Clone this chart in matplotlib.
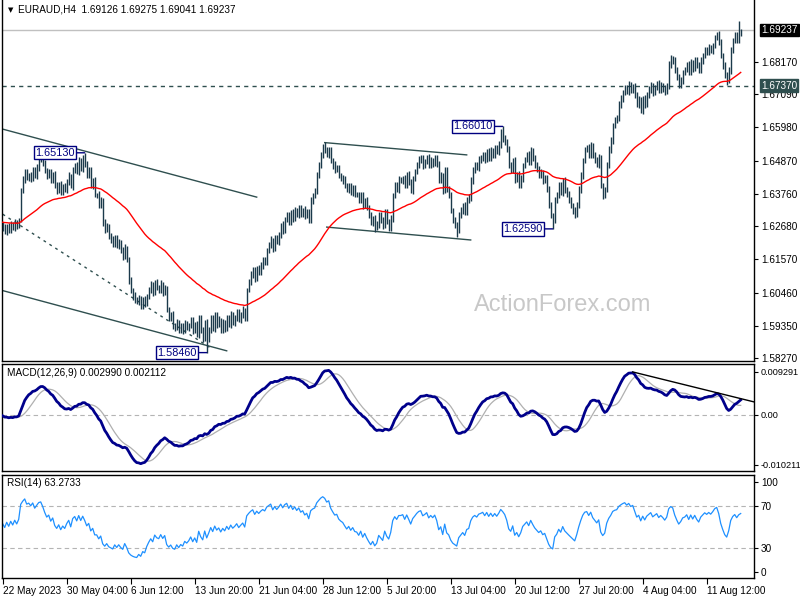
import numpy as np
import pandas as pd
import matplotlib
matplotlib.use("Agg")
import matplotlib.pyplot as plt
from matplotlib.transforms import blended_transform_factory

plt.rcParams['font.family'] = ['Liberation Sans', 'DejaVu Sans']

# ---------------- data (EURAUD H4 closes) ----------------
close = [
    1.6262, 1.6249, 1.6269, 1.6255, 1.6275, 1.6262, 1.6282, 1.6269, 1.6289, 1.6389, 1.6422, 1.6449, 1.6429, 1.6439, 1.6429, 1.6456,
    1.6436, 1.6462, 1.6489, 1.6496, 1.6479, 1.6456, 1.6436, 1.6449, 1.6422, 1.6442, 1.6405, 1.6389, 1.6409, 1.6382, 1.6402, 1.6389,
    1.6416, 1.6436, 1.6402, 1.6456, 1.6472, 1.6449, 1.6489, 1.6462, 1.6496, 1.6472, 1.6439, 1.6456, 1.6405, 1.6422, 1.6372, 1.6372,
    1.6339, 1.6355, 1.6282, 1.6255, 1.6269, 1.6235, 1.6222, 1.6209, 1.6229, 1.6202, 1.6215, 1.6188, 1.6168, 1.6195, 1.6155, 1.6088,
    1.6055, 1.6035, 1.6022, 1.6015, 1.6028, 1.6002, 1.6022, 1.6008, 1.6035, 1.6055, 1.6072, 1.6048, 1.6082, 1.6062, 1.6055, 1.6075,
    1.6048, 1.6062, 1.5988, 1.5962, 1.5972, 1.5938, 1.5928, 1.5948, 1.5921, 1.5935, 1.5921, 1.5942, 1.5928, 1.5938, 1.5955, 1.5921,
    1.5938, 1.5905, 1.5962, 1.5921, 1.5895, 1.5948, 1.5888, 1.5921, 1.5962, 1.5928, 1.5972, 1.5938, 1.5955, 1.5921, 1.5948, 1.5928,
    1.5962, 1.5938, 1.5972, 1.5948, 1.5962, 1.5982, 1.5955, 1.5972, 1.5988, 1.5962, 1.6055, 1.6082, 1.6105, 1.6122, 1.6095, 1.6128,
    1.6115, 1.6138, 1.6155, 1.6148, 1.6188, 1.6205, 1.6222, 1.6195, 1.6229, 1.6215, 1.6239, 1.6272, 1.6255, 1.6289, 1.6305, 1.6282,
    1.6315, 1.6295, 1.6322, 1.6305, 1.6329, 1.6309, 1.6322, 1.6302, 1.6315, 1.6289, 1.6355, 1.6372, 1.6382, 1.6439, 1.6472, 1.6506,
    1.6529, 1.6522, 1.6506, 1.6522, 1.6489, 1.6472, 1.6456, 1.6462, 1.6439, 1.6429, 1.6422, 1.6405, 1.6389, 1.6402, 1.6382, 1.6395,
    1.6375, 1.6372, 1.6355, 1.6372, 1.6339, 1.6355, 1.6329, 1.6305, 1.6282, 1.6295, 1.6262, 1.6272, 1.6305, 1.6289, 1.6272, 1.6315,
    1.6282, 1.6262, 1.6295, 1.6372, 1.6405, 1.6389, 1.6422, 1.6422, 1.6429, 1.6405, 1.6439, 1.6416, 1.6389, 1.6429, 1.6449, 1.6472,
    1.6489, 1.6496, 1.6472, 1.6482, 1.6496, 1.6472, 1.6489, 1.6479, 1.6496, 1.6472, 1.6422, 1.6439, 1.6389, 1.6456, 1.6389, 1.6372,
    1.6322, 1.6289, 1.6272, 1.6255, 1.6305, 1.6322, 1.6339, 1.6315, 1.6355, 1.6362, 1.6422, 1.6456, 1.6472, 1.6462, 1.6489, 1.6496,
    1.6506, 1.6489, 1.6516, 1.6496, 1.6522, 1.6506, 1.6529, 1.6516, 1.6539, 1.6572, 1.6562, 1.6549, 1.6522, 1.6472, 1.6456, 1.6489,
    1.6422, 1.6439, 1.6405, 1.6429, 1.6472, 1.6489, 1.6506, 1.6482, 1.6522, 1.6496, 1.6472, 1.6456, 1.6439, 1.6449, 1.6422, 1.6429,
    1.6389, 1.6339, 1.6305, 1.6289, 1.6355, 1.6372, 1.6405, 1.6382, 1.6422, 1.6389, 1.6372, 1.6355, 1.6339, 1.6322, 1.6305, 1.6339,
    1.6389, 1.6439, 1.6489, 1.6522, 1.6529, 1.6506, 1.6539, 1.6506, 1.6489, 1.6472, 1.6496, 1.6405, 1.6372, 1.6389, 1.6472, 1.6522,
    1.6556, 1.6606, 1.6622, 1.6629, 1.6673, 1.6696, 1.6716, 1.6729, 1.6716, 1.6739, 1.6723, 1.6736, 1.6706, 1.6673, 1.6689, 1.6656,
    1.6696, 1.6673, 1.6706, 1.6723, 1.6739, 1.6716, 1.6729, 1.6743, 1.6723, 1.6739, 1.6729, 1.6716, 1.6736, 1.6806, 1.6829, 1.6823,
    1.6789, 1.6763, 1.6739, 1.6756, 1.6783, 1.6789, 1.6806, 1.6783, 1.6816, 1.6796, 1.6823, 1.6803, 1.6789, 1.6823, 1.6839, 1.6856,
    1.6849, 1.6863, 1.6856, 1.6873, 1.6896, 1.6906, 1.6883, 1.6839, 1.6806, 1.6773, 1.6756, 1.6789, 1.6856, 1.6889, 1.6906, 1.6889,
    1.69126, 1.69237,
]
first_open = 1.6275

# wick extensions beyond the bar body, in pips (0.0001)
up_wick_pips = [
    8, 12, 6, 10, 9, 7, 11, 8, 6, 5, 12, 9, 10, 7, 11, 8, 9, 13, 10, 8, 12, 9, 7, 11, 10, 8, 9, 12, 7, 10, 8, 11,
    9, 12, 7, 10, 8, 11, 9, 7, 10, 17, 12, 9, 11, 8, 10, 7, 12, 9, 8, 11, 10, 7, 9, 12, 8, 10, 11, 7, 9, 12, 8, 10,
    10, 8, 12, 9, 11, 7, 10, 13, 8, 9, 12, 10, 8, 11, 9, 12, 7, 10, 8, 11, 9, 12, 8, 10, 7, 11, 9, 12, 10, 8, 11, 9,
    9, 12, 8, 10, 11, 7, 9, 12, 10, 8, 11, 9, 12, 7, 10, 8, 11, 9, 12, 10, 8, 11, 9, 10, 12, 8, 7, 10, 12, 9, 11, 8,
    10, 12, 9, 11, 8, 10, 12, 7, 9, 11, 10, 8, 12, 9, 11, 10, 8, 12, 9, 7, 11, 10, 8, 12, 9, 10, 11, 8, 12, 9, 10, 11,
    12, 20, 9, 11, 10, 8, 12, 9, 11, 7, 10, 12, 8, 9, 11, 10, 12, 8, 9, 11, 10, 7, 12, 9, 11, 8, 10, 12, 9, 11, 8, 10,
    9, 11, 12, 8, 10, 9, 12, 11, 8, 10, 9, 12, 10, 8, 11, 9, 12, 10, 8, 11, 9, 12, 10, 8, 11, 9, 12, 10, 8, 11, 9, 12,
    10, 8, 11, 9, 12, 10, 8, 11, 9, 12, 10, 8, 11, 9, 12, 10, 8, 11, 9, 12, 10, 8, 11, 9, 12, 20, 29, 11, 9, 12, 10, 8,
    11, 9, 12, 10, 8, 11, 9, 12, 10, 8, 11, 9, 12, 10, 8, 11, 9, 12, 10, 8, 11, 9, 12, 10, 8, 11, 9, 12, 10, 8, 11, 9,
    12, 10, 8, 11, 9, 12, 10, 8, 11, 9, 12, 10, 8, 11, 9, 12, 10, 8, 11, 9, 12, 10, 8, 11, 9, 12, 10, 8, 11, 9, 12, 10,
    8, 11, 9, 12, 10, 8, 11, 9, 12, 10, 8, 11, 9, 12, 10, 8, 11, 9, 12, 10, 8, 11, 9, 12, 10, 8, 11, 9, 12, 10, 8, 11,
    9, 12, 10, 8, 11, 9, 12, 10, 8, 11, 9, 12, 10, 8, 11, 9, 40, 3.8,
]
down_wick_pips = [
    10, 8, 12, 9, 11, 7, 10, 12, 8, 6, 9, 11, 8, 10, 12, 9, 7, 11, 10, 8, 9, 12, 10, 7, 11, 9, 8, 12, 10, 9, 11, 8,
    11, 9, 8, 12, 10, 7, 11, 9, 12, 8, 10, 11, 9, 12, 8, 10, 11, 9, 12, 10, 8, 11, 9, 12, 10, 8, 11, 9, 12, 10, 8, 14,
    9, 12, 10, 8, 11, 9, 12, 10, 8, 11, 9, 12, 10, 8, 11, 9, 12, 10, 8, 11, 9, 12, 10, 8, 11, 9, 12, 10, 8, 11, 9, 12,
    10, 8, 11, 9, 12, 10, 42, 8, 11, 9, 12, 10, 8, 11, 9, 12, 10, 8, 11, 9, 12, 10, 8, 11, 9, 12, 10, 8, 11, 9, 12, 10,
    11, 9, 12, 10, 8, 11, 9, 12, 10, 8, 11, 9, 12, 10, 8, 11, 9, 12, 10, 8, 11, 9, 12, 10, 8, 11, 9, 12, 10, 8, 11, 9,
    12, 10, 8, 11, 9, 12, 10, 8, 11, 9, 12, 10, 8, 11, 9, 12, 10, 8, 11, 9, 12, 10, 8, 11, 9, 12, 13, 8, 11, 9, 12, 10,
    8, 11, 9, 12, 10, 8, 11, 9, 12, 10, 8, 11, 9, 12, 10, 8, 11, 9, 12, 10, 8, 11, 9, 12, 10, 8, 11, 9, 12, 10, 8, 11,
    9, 12, 10, 23, 11, 9, 12, 10, 8, 11, 9, 12, 10, 8, 11, 9, 12, 10, 8, 11, 9, 12, 10, 8, 11, 9, 12, 10, 8, 11, 9, 12,
    10, 8, 11, 9, 12, 10, 8, 11, 9, 12, 10, 8, 11, 9, 12, 10, 8, 11, 9, 30, 10, 8, 11, 9, 12, 10, 8, 11, 9, 12, 10, 8,
    11, 9, 12, 10, 8, 11, 9, 12, 10, 8, 11, 9, 12, 10, 8, 11, 9, 12, 10, 8, 11, 9, 12, 10, 8, 11, 9, 12, 10, 8, 11, 9,
    12, 10, 8, 11, 9, 12, 10, 8, 11, 9, 12, 10, 8, 11, 9, 12, 10, 8, 11, 9, 12, 10, 8, 11, 9, 12, 10, 8, 11, 9, 12, 10,
    8, 11, 9, 12, 10, 8, 11, 9, 12, 10, 17, 9, 12, 10, 8, 11, 9, 8.5,
]
ma_seed = 1.6282
rsi_gain_seed = 0.0008   # indicator state before the first visible bar (RSI ~57 at the left edge)
rsi_loss_seed = 0.0006

date_labels = ["22 May 2023", "30 May 04:00", "6 Jun 12:00", "13 Jun 20:00", "21 Jun 04:00",
               "28 Jun 12:00", "5 Jul 20:00", "13 Jul 04:00", "20 Jul 12:00", "27 Jul 20:00",
               "4 Aug 04:00", "11 Aug 12:00"]
bars_per_label = 32

price_ticks = [1.68170, 1.67090, 1.65980, 1.64870, 1.63760, 1.62680, 1.61570, 1.60460, 1.59350, 1.58270]
current_price = 1.69237
level_line = 1.67370

# trendline anchors: (bar, price) pairs
channel_upper = [(0, 1.6592), (127, 1.6365)]
channel_lower = [(0, 1.6053), (112, 1.5852)]
channel_mid_dotted = [(0, 1.6308), (105, 1.5857)]
flag_upper = [(161, 1.6547), (232, 1.6506)]
flag_lower = [(162, 1.6265), (234, 1.6222)]
macd_trend = [(315, 0.0080), (376, 0.0024)]

# price marker labels: (bar, price, text)
price_marks = [(41, 1.65130, "1.65130"), (102, 1.58460, "1.58460"),
               (250, 1.66010, "1.66010"), (275, 1.62590, "1.62590")]

# ---------------- derived series ----------------
close = np.array(close)
up_w = np.array(up_wick_pips) * 1e-4
dn_w = np.array(down_wick_pips) * 1e-4
opens = np.concatenate([[first_open], close[:-1]])
high = np.maximum(opens, close) + up_w
low = np.minimum(opens, close) - dn_w
xb = np.arange(len(close))


def ema(v, n, seed):
    a = 2.0 / (n + 1)
    out = np.empty_like(v)
    p = seed
    for i, val in enumerate(v):
        p = p + a * (val - p)
        out[i] = p
    return out


ma = ema(close, 55, ma_seed)
macd = ema(close, 12, ma_seed) - ema(close, 26, ma_seed)
signal = pd.Series(macd).rolling(9, min_periods=1).mean().values

diff = np.diff(close, prepend=first_open)
rsi = np.empty_like(close)
ag, al = rsi_gain_seed, rsi_loss_seed
for i, d in enumerate(diff):
    ag = (ag * 13 + max(d, 0)) / 14
    al = (al * 13 + max(-d, 0)) / 14
    rsi[i] = 100 - 100 / (1 + ag / al) if al > 0 else 100

# ---------------- figure ----------------
W, H = 800, 600
fig = plt.figure(figsize=(8, 6), dpi=100)
fig.patch.set_facecolor('white')


def axes_px(x0, y0, x1, y1):
    return fig.add_axes([x0 / W, 1 - y1 / H, (x1 - x0) / W, (y1 - y0) / H])


ax = axes_px(2, 0, 754, 361)
axm = axes_px(2, 364, 754, 471)
axr = axes_px(2, 475, 754, 578)

xlim = (-0.35, 375.65)
FS = 7.2
bar_col = '#1b3a4b'
for a in (ax, axm, axr):
    a.set_xlim(*xlim)
    a.set_facecolor('white')
    for s in a.spines.values():
        s.set_color('black')
        s.set_linewidth(1.0)
    a.yaxis.tick_right()
    a.tick_params(axis='y', direction='out', length=3, width=0.8, pad=2,
                  labelsize=FS, colors='black')
    a.tick_params(axis='x', bottom=False, labelbottom=False)
ax.spines['top'].set_visible(False)

# ---- main panel ----
ax.set_ylim(1.5818, 1.7023)
ax.axhline(current_price, color='#c0c0c0', lw=1.0, zorder=1)
ax.axhline(level_line, color='#2f4f4f', lw=1.0, ls=(0, (3, 3)), zorder=1)
for line, sty in ((channel_upper, '-'), (channel_lower, '-'), (flag_upper, '-'),
                  (flag_lower, '-'), (channel_mid_dotted, (0, (2, 3)))):
    (x0, y0), (x1, y1) = line
    ax.plot([x0, x1], [y0, y1], color='#2f4f4f', lw=1.0, ls=sty, zorder=2)
ax.vlines(xb, low, high, colors=bar_col, lw=1.0, zorder=3)
ax.plot(xb, ma, color='#ff0000', lw=1.0, zorder=4)

ax.set_yticks(price_ticks)
ax.set_yticklabels([f"{v:.5f}" for v in price_ticks])

tr = blended_transform_factory(ax.transAxes, ax.transData)
ax.text(1.0 + 7 / 752, current_price, f"{current_price:.5f}", transform=tr, ha='left', va='center',
        fontsize=FS, color='white',
        bbox=dict(boxstyle='square,pad=0.12', fc='black', ec='black'), zorder=6, clip_on=False)
ax.text(1.0 + 7 / 752, level_line, f"{level_line:.5f}", transform=tr, ha='left', va='center',
        fontsize=FS, color='white',
        bbox=dict(boxstyle='square,pad=0.12', fc='#2f4f4f', ec='#2f4f4f'), zorder=6, clip_on=False)

for bx, by, txt in price_marks:
    ax.annotate(txt, xy=(bx, by), xytext=(-10, 0), textcoords='offset pixels',
                ha='right', va='center', fontsize=7.8, color='#000080',
                bbox=dict(boxstyle='square,pad=0.15', fc='white', ec='#000080', lw=1.0),
                arrowprops=dict(arrowstyle='-', color='#000080', lw=1.0, shrinkA=0, shrinkB=0),
                zorder=6)

ax.text(0.745, 0.155, "ActionForex.com", transform=ax.transAxes, ha='center', va='center',
        fontsize=17, color='#c8c8c8', zorder=0)

fig.text(8 / W, 1 - 10 / H, "\u25bc", fontsize=5, va='center', ha='left', family='DejaVu Sans')
fig.text(18 / W, 1 - 10 / H, "EURAUD,H4  1.69126 1.69275 1.69041 1.69237", fontsize=FS,
         va='center', ha='left')

# ---- MACD panel ----
mscale = 0.0001857
axm.set_ylim(-(471 - 415) * mscale, (415 - 364) * mscale)
axm.axhline(0, color='#b4b4b4', lw=0.8, ls=(0, (4, 3)), zorder=1)
axm.plot(xb, signal, color='#b0b0b0', lw=0.9, zorder=2)
axm.plot(xb, macd, color='#00008b', lw=2.0, zorder=3)
(x0, y0), (x1, y1) = macd_trend
axm.plot([x0, x1], [y0, y1], color='black', lw=1.0, zorder=4)
axm.set_yticks([(415 - 371.7) * mscale, 0, -(465 - 415) * mscale])
axm.set_yticklabels(["0.009291", "0.00", "-0.010211"])
axm.tick_params(axis='y', labelsize=6.6, pad=1.5)
fig.text(7 / W, 1 - 373 / H, "MACD(12,26,9) 0.002990 0.002112", fontsize=FS, va='center', ha='left')

# ---- RSI panel ----
axr.set_ylim(1.7, 99.8)
for lvl in (70, 30):
    axr.axhline(lvl, color='#b4b4b4', lw=0.8, ls=(0, (4, 3)), zorder=1)
axr.plot(xb, rsi, color='#1e90ff', lw=0.9, zorder=2)
axr.set_yticks([93.4, 70, 30, 7.7])
axr.set_yticklabels(["100", "70", "30", "0"])
fig.text(7 / W, 1 - 483 / H, "RSI(14) 63.2733", fontsize=FS, va='center', ha='left')

xt = [i * bars_per_label for i in range(len(date_labels))]
axr.tick_params(axis='x', bottom=True, labelbottom=True, direction='out', length=4,
                width=0.8, pad=2, labelsize=FS)
axr.set_xticks(xt)
axr.set_xticklabels(date_labels)
for lab in axr.get_xticklabels():
    lab.set_ha('left')

fig.savefig("out.png", dpi=100, facecolor='white')
